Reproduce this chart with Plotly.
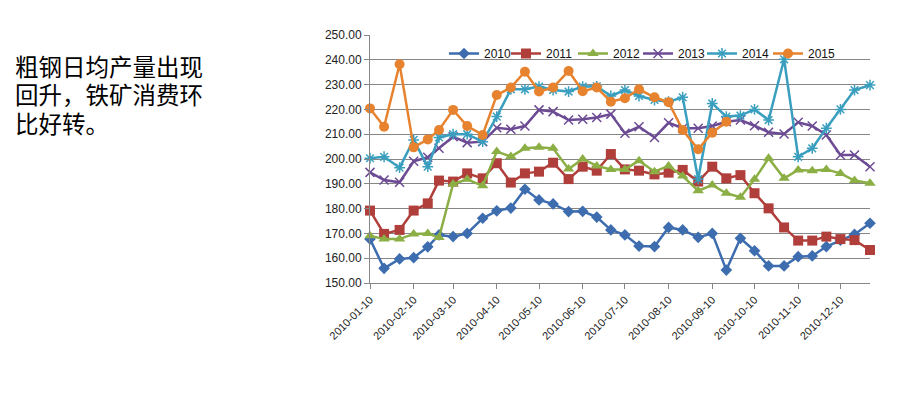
import plotly.graph_objects as go
import calendar

# ---- data ----
months = list(range(1, 13))
dates = []
for m in months:
    last = calendar.monthrange(2010, m)[1]
    dates += [f"2010-{m:02d}-10", f"2010-{m:02d}-20", f"2010-{m:02d}-{last:02d}"]

tick_dates = [f"2010-{m:02d}-10" for m in months]
tick_text = [f"2010-{m:02d}-10" for m in months]

v2010 = [167.7, 155.9, 159.7, 160.2, 164.6, 169.4, 168.7, 170.0, 176.1, 179.1, 180.2, 187.8,
         183.5, 181.9, 178.8, 178.9, 176.6, 171.4, 169.4, 164.9, 164.7, 172.4, 171.4, 168.4,
         170.0, 155.2, 168.0, 163.0, 156.9, 156.9, 160.6, 160.9, 164.7, 167.3, 169.6, 174.1]
v2011 = [179.2, 169.8, 171.4, 179.2, 182.1, 191.3, 190.9, 194.2, 192.2, 198.3, 190.5, 194.2,
         194.9, 198.5, 191.9, 196.9, 195.3, 202.0, 195.8, 195.3, 193.8, 194.5, 195.6, 190.9,
         196.9, 192.2, 193.5, 186.2, 180.1, 172.4, 167.1, 167.1, 168.7, 167.7, 167.3, 163.3]
v2012 = [169.1, 167.7, 167.7, 169.8, 170.0, 168.3, 189.9, 191.8, 189.2, 203.0, 201.0, 204.3,
         204.7, 204.3, 196.0, 200.0, 197.2, 195.8, 195.8, 199.3, 194.9, 197.2, 193.1, 187.2,
         189.5, 186.2, 184.6, 191.8, 200.3, 192.2, 195.6, 195.3, 195.8, 194.2, 191.3, 190.2]
v2013 = [194.6, 191.5, 190.6, 199.1, 200.7, 204.3, 209.0, 206.6, 207.0, 212.6, 212.0, 213.3,
         219.8, 219.1, 215.7, 216.0, 216.7, 218.1, 210.4, 213.0, 208.7, 214.6, 212.4, 212.4,
         213.3, 215.0, 215.7, 213.4, 210.8, 210.1, 214.8, 213.3, 209.7, 201.6, 201.6, 196.9]
v2014 = [200.3, 200.9, 196.5, 207.7, 196.9, 208.7, 210.0, 210.0, 207.0, 217.1, 228.1, 228.1,
         229.2, 227.8, 227.2, 229.2, 229.3, 225.4, 227.8, 225.4, 223.8, 223.1, 224.9, 191.9,
         222.4, 217.1, 217.5, 220.0, 215.7, 240.2, 200.9, 204.3, 212.4, 220.0, 227.8, 229.8]
v2015 = [220.4, 213.0, 238.2, 204.7, 207.9, 211.7, 219.8, 213.3, 209.7, 225.8, 228.8, 235.2,
         227.2, 228.8, 235.5, 227.3, 228.8, 223.1, 224.5, 228.1, 224.9, 222.9, 211.7, 203.9,
         210.6, 215.0]

series_names = ["2010", "2011", "2012", "2013", "2014", "2015"]
series_values = [v2010, v2011, v2012, v2013, v2014, v2015]

note_lines = ["粗钢日均产量出现", "回升，铁矿消费环", "比好转。"]

# ---- styles ----
colors = ["#3D6DAE", "#B03F3C", "#8BAE45", "#6C4B94", "#3A9FBF", "#E7832F"]
symbols = ["diamond", "square", "triangle-up", "x-thin-open", "asterisk-open", "circle"]
sizes = [9, 10, 10, 9, 9, 10]
legend_x_px = [444, 506, 573, 638, 702, 768]  # left edge of each legend entry (page px)

# page has an 8px body margin; figure drawn at (8, 8)
OFF = 8
PAGE_W, PAGE_H = 901, 394
W, H = PAGE_W - OFF, PAGE_H - OFF
L, R, T, B = 370, 870, 35, 283  # plot area in page pixels


def xp(px):
    return (px - L) / (R - L)


def yp(py):
    return (B - py) / (B - T)


fig = go.Figure()
legend_layouts = {}
for i, (name, vals, c, s, sz) in enumerate(zip(series_names, series_values, colors, symbols, sizes)):
    mk = dict(symbol=s, size=sz, color=c)
    if "open" in s:
        mk["line"] = dict(color=c, width=1.5)
    lg = "legend" if i == 0 else f"legend{i + 1}"
    fig.add_trace(go.Scatter(
        x=dates[:len(vals)], y=vals, name=name, mode="lines+markers",
        line=dict(color=c, width=2.5), marker=mk, cliponaxis=False, legend=lg,
    ))
    legend_layouts[lg] = dict(orientation="h", x=xp(legend_x_px[i]), y=yp(39),
                              xanchor="left", yanchor="top", bgcolor="rgba(0,0,0,0)",
                              font=dict(size=12, color="#111"), itemwidth=30)

fig.update_layout(
    width=W, height=H, autosize=False,
    margin=dict(l=L - OFF, r=W - (R - OFF), t=T - OFF, b=H - (B - OFF), pad=0),
    paper_bgcolor="white", plot_bgcolor="white",
    font=dict(family="Liberation Sans, Arial, sans-serif", color="#222"),
    showlegend=True,
    xaxis=dict(type="date", range=["2010-01-10", "2010-12-31"],
               tickvals=tick_dates, ticktext=tick_text, tickangle=-45,
               tickfont=dict(size=11), ticks="outside", ticklen=5, tickcolor="#868686",
               showline=True, linecolor="#868686", linewidth=1, showgrid=False,
               zeroline=False),
    yaxis=dict(range=[150, 250], dtick=10, tickformat=".2f", tickfont=dict(size=12),
               ticks="outside", ticklen=5, tickcolor="#868686",
               showline=True, linecolor="#868686", linewidth=1,
               showgrid=True, gridcolor="#868686", gridwidth=1, zeroline=False),
    **legend_layouts,
)

line_y = [68, 96.5, 125]
for txt, ly in zip(note_lines, line_y):
    fig.add_annotation(text=txt, xref="paper", yref="paper", x=xp(13), y=yp(ly),
                       xanchor="left", yanchor="middle", align="left", showarrow=False,
                       font=dict(family="Liberation Sans, Noto Sans CJK SC", size=23.5,
                                 color="black"))

fig.write_html("out.html")
